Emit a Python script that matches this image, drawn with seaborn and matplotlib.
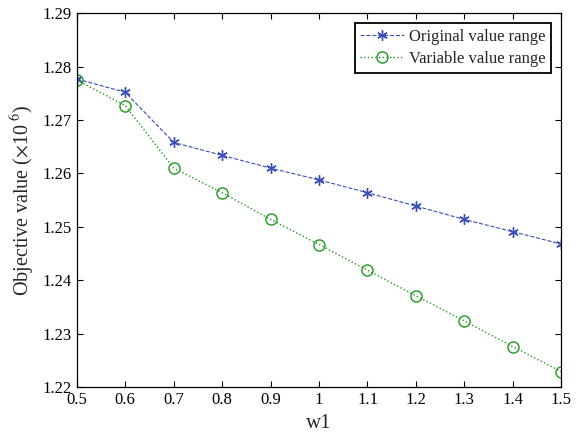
import numpy as np
import pandas as pd
import matplotlib
matplotlib.use('Agg')
import matplotlib.pyplot as plt
import seaborn as sns

w1 = [0.5, 0.6, 0.7, 0.8, 0.9, 1.0, 1.1, 1.2, 1.3, 1.4, 1.5]
original = [1.2777, 1.2752, 1.2658, 1.2634, 1.2610, 1.2588, 1.2564, 1.2539, 1.2514, 1.2491, 1.2468]
variable = [1.2775, 1.2727, 1.2610, 1.2564, 1.2514, 1.2467, 1.2419, 1.2371, 1.2324, 1.2276, 1.2229]
yticks = [1.22, 1.23, 1.24, 1.25, 1.26, 1.27, 1.28, 1.29]
xticks = [0.5, 0.6, 0.7, 0.8, 0.9, 1.0, 1.1, 1.2, 1.3, 1.4, 1.5]
xticklabels = ['0.5', '0.6', '0.7', '0.8', '0.9', '1', '1.1', '1.2', '1.3', '1.4', '1.5']

sns.set_style('ticks')
plt.rcParams['font.family'] = ['Liberation Serif', 'DejaVu Serif']
plt.rcParams['mathtext.fontset'] = 'stix'
plt.rcParams['xtick.direction'] = 'in'
plt.rcParams['ytick.direction'] = 'in'

df = pd.DataFrame({'w1': w1, 'orig': original, 'var': variable})

fig = plt.figure(figsize=(5.78, 4.40), dpi=100)
ax = fig.add_axes([0.133, 0.120, 0.838, 0.850])

# matlab-like asterisk marker
sns.lineplot(x='w1', y='orig', data=df, ax=ax, color='#3a4fb8', linestyle='--',
             marker=(6, 2, 0), markersize=7.5, markeredgecolor='#3a4fb8',
             markeredgewidth=1.0, linewidth=0.8, label='Original value range')
sns.lineplot(x='w1', y='var', data=df, ax=ax, color='#1e9a1e', linestyle=':',
             marker='o', markersize=8, markerfacecolor='none', markeredgecolor='#1e9a1e',
             markeredgewidth=1.0, linewidth=1.0, label='Variable value range')

ax.set_xlim(0.5, 1.5)
ax.set_ylim(1.22, 1.29)
ax.set_xticks(xticks)
ax.set_xticklabels(xticklabels)
ax.set_yticks(yticks)
ax.set_yticklabels(['%.2f' % v for v in yticks])
ax.tick_params(top=True, right=True, labelsize=12, length=4, width=0.8, colors='black')
for sp in ax.spines.values():
    sp.set_visible(True)
    sp.set_color('black')
    sp.set_linewidth(0.9)

ax.set_xlabel('w1', fontsize=15)
ax.set_ylabel(r'Objective value ($\times$10$^{\ 6}$)', fontsize=14.5)

leg = ax.legend(loc='upper right', fontsize=12, frameon=True, fancybox=False,
                edgecolor='black', framealpha=1, borderpad=0.35, handlelength=2.6,
                handletextpad=0.3, labelspacing=0.35, borderaxespad=0.6)
leg.get_frame().set_linewidth(1.3)

fig.savefig('out.png', dpi=100)
plt.close(fig)
